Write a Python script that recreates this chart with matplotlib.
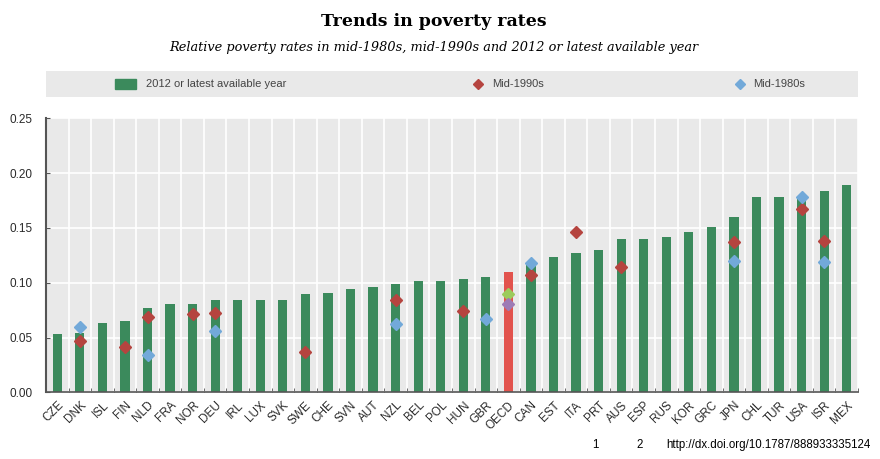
import numpy as np
import matplotlib
matplotlib.use("Agg")
import matplotlib.pyplot as plt
from matplotlib.patches import Rectangle

countries = ['CZE', 'DNK', 'ISL', 'FIN', 'NLD', 'FRA', 'NOR', 'DEU', 'IRL', 'LUX',
             'SVK', 'SWE', 'CHE', 'SVN', 'AUT', 'NZL', 'BEL', 'POL', 'HUN', 'GBR',
             'OECD', 'CAN', 'EST', 'ITA', 'PRT', 'AUS', 'ESP', 'RUS', 'KOR', 'GRC',
             'JPN', 'CHL', 'TUR', 'USA', 'ISR', 'MEX']
nan = np.nan
latest = [0.053, 0.054, 0.063, 0.065, 0.077, 0.081, 0.081, 0.084, 0.084, 0.084,
          0.084, 0.090, 0.091, 0.094, 0.096, 0.099, 0.102, 0.102, 0.103, 0.105,
          0.110, 0.118, 0.123, 0.127, 0.130, 0.140, 0.140, 0.142, 0.146, 0.151,
          0.160, 0.178, 0.178, 0.178, 0.184, 0.189]
mid1990s = [nan, 0.047, nan, 0.041, 0.069, nan, 0.071, 0.072, nan, nan,
            nan, 0.037, nan, nan, nan, 0.084, nan, nan, 0.074, nan,
            nan, 0.107, nan, 0.146, nan, 0.114, nan, nan, nan, nan,
            0.137, nan, nan, 0.167, 0.138, nan]
mid1980s = [nan, 0.060, nan, nan, 0.034, nan, nan, 0.056, nan, nan,
            nan, nan, nan, nan, nan, 0.062, nan, nan, nan, 0.067,
            nan, 0.118, nan, nan, nan, nan, nan, nan, nan, nan,
            0.120, nan, nan, 0.178, 0.119, nan]
# OECD averages of the two earlier periods
oecd_1990s = 0.090
oecd_1980s = 0.081

green = '#3b8a5c'
red_bar = '#e2534d'
red_dia = '#b5443f'
blue_dia = '#72a9d9'
bg = '#e9e9e9'
sans = ['Liberation Sans Narrow', 'Liberation Sans']
serif = 'DejaVu Serif'

fig = plt.figure(figsize=(8.8, 4.59), dpi=100)
ax = fig.add_axes([0.0523, 0.1453, 0.9227, 0.597])

x = np.arange(len(countries))
colors = [red_bar if c == 'OECD' else green for c in countries]
ax.bar(x, latest, width=0.41, color=colors, zorder=2)
ax.plot(x, mid1990s, 'D', color=red_dia, markersize=6, zorder=3)
ax.plot(x, mid1980s, 'D', color=blue_dia, markersize=6, zorder=4)
io = countries.index('OECD')
ax.plot(io, oecd_1990s, 'D', color='#9ccb5c', markersize=6, zorder=4)
ax.plot(io, oecd_1980s, 'D', color='#9d7bb5', markersize=6, zorder=4)

ax.set_facecolor(bg)
ax.set_xlim(-0.5, len(countries) - 0.5)
ax.set_ylim(0, 0.25)
ax.set_yticks(np.arange(0, 0.26, 0.05))
ax.set_yticklabels(['%.2f' % v for v in np.arange(0, 0.26, 0.05)])
ax.set_xticks(x)
ax.set_xticklabels(countries, rotation=45, ha='right', rotation_mode='anchor')
ax.set_xticks(np.arange(-0.5, len(countries), 1), minor=True)
ax.grid(True, which='minor', axis='x', color='white', linewidth=1.2, zorder=0)
ax.grid(True, which='major', axis='y', color='white', linewidth=1.2, zorder=0)
ax.set_axisbelow(True)
ax.tick_params(axis='x', which='major', length=0, pad=5, labelsize=8.5, labelcolor='#2a2a2a')
ax.tick_params(axis='x', which='minor', direction='in', length=3, color='#555555')
ax.tick_params(axis='y', direction='in', length=3, color='#555555', labelsize=8.5,
               labelcolor='#2a2a2a', pad=10)
for s in ['top', 'right']:
    ax.spines[s].set_visible(False)
ax.spines['left'].set_color('#555555')
ax.spines['left'].set_linewidth(1.5)
ax.spines['bottom'].set_color('#555555')
ax.spines['bottom'].set_linewidth(1.2)

for lab in ax.get_xticklabels() + ax.get_yticklabels():
    lab.set_family(sans)

# legend band
lax = fig.add_axes([0.0523, 1 - 97 / 459, 0.9227, 26 / 459])
lax.set_xlim(46, 858)
lax.set_ylim(0, 1)
lax.set_facecolor(bg)
lax.set_xticks([])
lax.set_yticks([])
for s in lax.spines.values():
    s.set_visible(False)
lax.add_patch(Rectangle((115, 0.3), 21, 0.38, color=green))
lax.text(146, 0.5, '2012 or latest available year', va='center', fontsize=8,
         color='#444444', family=sans)
lax.plot(478, 0.5, 'D', color=red_dia, markersize=5.5)
lax.text(492, 0.5, 'Mid-1990s', va='center', fontsize=8, color='#444444', family=sans)
lax.plot(740, 0.5, 'D', color=blue_dia, markersize=5.5)
lax.text(753, 0.5, 'Mid-1980s', va='center', fontsize=8, color='#444444', family=sans)

fig.text(434 / 880, 1 - 22 / 459, 'Trends in poverty rates', ha='center', va='center',
         fontsize=12.5, fontweight='bold', family=serif)
fig.text(434 / 880, 1 - 47 / 459,
         'Relative poverty rates in mid-1980s, mid-1990s and 2012 or latest available year',
         ha='center', va='center', fontsize=9.3, style='italic', family=serif)

fig.text(595 / 880, 1 - 445 / 459, '1', ha='center', va='center', fontsize=8.3, family=sans)
fig.text(640 / 880, 1 - 445 / 459, '2', ha='center', va='center', fontsize=8.3, family=sans)
fig.text(666 / 880, 1 - 445 / 459, 'http://dx.doi.org/10.1787/888933335124', ha='left',
         va='center', fontsize=8.3, family=sans)

fig.savefig('out.png', dpi=100)
